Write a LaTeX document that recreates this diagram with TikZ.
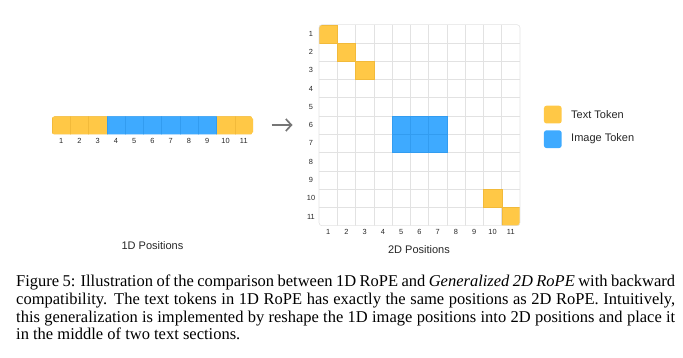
\documentclass[tikz,border=0pt]{standalone}
\usepackage{fontspec}
\setmainfont{Liberation Serif}
\setsansfont{Liberation Sans}
\usetikzlibrary{arrows.meta}
\definecolor{tokY}{RGB}{255,200,70}
\definecolor{tokYd}{RGB}{242,186,58}
\definecolor{tokB}{RGB}{62,170,255}
\definecolor{tokBd}{RGB}{50,156,240}
\definecolor{gridc}{RGB}{226,226,226}
\definecolor{arrowc}{RGB}{118,118,118}
\definecolor{numc}{RGB}{40,40,40}
\begin{document}
\begin{tikzpicture}[x=1pt,y=-1pt,
  ycell/.style={fill=tokY,draw=tokYd,line width=0.35pt,inner sep=0pt,minimum width=18.27pt,minimum height=18.27pt},
  bcell/.style={fill=tokB,draw=tokBd,line width=0.35pt,inner sep=0pt,minimum width=18.27pt,minimum height=18.27pt},
  numlab/.style={font=\sffamily\fontsize{7.4}{8}\selectfont,text=numc,inner sep=0pt},
  titlelab/.style={font=\sffamily\fontsize{11}{13}\selectfont,text=black!85,inner sep=0pt},
  legbox/.style={inner sep=0pt,minimum width=17.7pt,minimum height=17.7pt,rounded corners=2.5pt},
  leglab/.style={font=\sffamily\fontsize{11}{13}\selectfont,text=black!85,inner sep=0pt,anchor=west}]
\useasboundingbox (0,0) rectangle (683,358);

% ---------- 1D bar ----------
\begin{scope}
\clip[rounded corners=2.5pt] (52,116.5) rectangle (253,134.5);
\foreach \i in {1,2,3,10,11}{
  \node[ycell,minimum height=18pt] (a\i) at ({52+(\i-0.5)*18.27},125.5) {};
}
\foreach \i in {4,...,9}{
  \node[bcell,minimum height=18pt] (a\i) at ({52+(\i-0.5)*18.27},125.5) {};
}
\end{scope}
\foreach \i in {1,...,11}{
  \node[numlab] (al\i) at ({52+(\i-0.5)*18.27},141) {\i};
}
\node[titlelab] (t1) at (152.5,246) {1D Positions};

% ---------- arrow ----------
\coordinate (arA) at (271.5,125);
\coordinate (arB) at (292.5,125);
\draw[arrowc,line width=1.7pt,-{Straight Barb[length=5.5pt,width=12pt]}] (arA) -- (arB);

% ---------- 2D grid ----------
\begin{scope}
\clip[rounded corners=3pt] (319,24.7) rectangle (520,225.7);
\foreach \k in {1,...,10}{
  \draw[gridc,line width=0.6pt] ({319+\k*18.27},24.7) -- ({319+\k*18.27},225.7);
  \draw[gridc,line width=0.6pt] (319,{24.7+\k*18.27}) -- (520,{24.7+\k*18.27});
}
\foreach \i in {1,2,3,10,11}{
  \node[ycell] (g\i) at ({319+(\i-0.5)*18.27},{24.7+(\i-0.5)*18.27}) {};
}
\foreach \c in {5,6,7}{
  \foreach \r in {6,7}{
    \node[bcell] (b\c\r) at ({319+(\c-0.5)*18.27},{24.7+(\r-0.5)*18.27}) {};
  }
}
\end{scope}
\draw[gridc,line width=0.6pt,rounded corners=3pt] (319,24.7) rectangle (520,225.7);
\foreach \i in {1,...,11}{
  \node[numlab] (rl\i) at (311,{24.7+(\i-0.5)*18.27}) {\i};
  \node[numlab] (cl\i) at ({319+(\i-0.5)*18.27},231.7) {\i};
}
\node[titlelab] (t2) at (419,249.7) {2D Positions};

% ---------- legend ----------
\node[legbox,fill=tokY] (lgy) at (552.8,114.6) {};
\node[leglab] (lty) at (571,114.3) {Text Token};
\node[legbox,fill=tokB] (lgb) at (552.8,139.2) {};
\node[leglab] (ltb) at (571,139) {Image Token};

% ---------- caption ----------
\node[anchor=base west,inner sep=0pt] (cap) at (16,287) {\parbox[t]{659pt}{\fontsize{16.5}{17.6}\selectfont
Figure 5: Illustration of the comparison between 1D RoPE and \textit{Generalized 2D RoPE} with backward\linebreak
compatibility. The text tokens in 1D RoPE has exactly the same positions as 2D RoPE. Intuitively,\linebreak
this generalization is implemented by reshape the 1D image positions into 2D positions and place it\linebreak
in the middle of two text sections.}};
\end{tikzpicture}
\end{document}
